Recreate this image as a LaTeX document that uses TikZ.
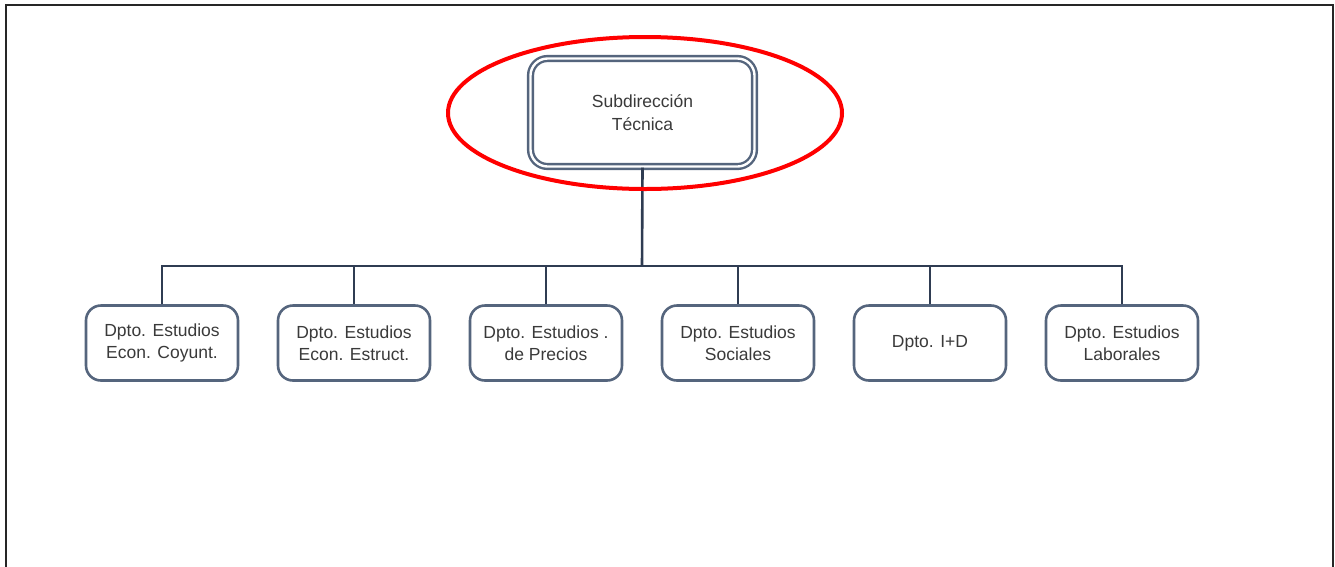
\documentclass[tikz,border=0pt]{standalone}
\usepackage{fontspec}
\usetikzlibrary{shapes.geometric}
\setmainfont{Liberation Sans}
\begin{document}
\begin{tikzpicture}[x=1pt,y=-1pt,
  boxline/.style={draw=boxc, line width=2.6pt, rounded corners=15pt},
  dept/.style={boxline, fill=white, minimum width=152pt, minimum height=75pt, align=center,
     text=txtc, font=\fontsize{17.5}{22}\selectfont, inner sep=0pt},
  top/.style={draw=boxc, line width=2.4pt, double=white, double distance=2.4pt, rounded corners=17pt,
     fill=white, minimum width=224pt, minimum height=108pt, align=center,
     text=txtc, font=\fontsize{17.5}{23}\selectfont, inner sep=0pt},
  conn/.style={draw=connc, line width=2.6pt},
  frame/.style={draw=black!85, line width=1.5pt}]
\definecolor{boxc}{HTML}{55657D}
\definecolor{connc}{HTML}{2F3C52}
\definecolor{txtc}{HTML}{3A3A3A}
\useasboundingbox (0,0) rectangle (1335,566);
\draw[frame] (6,570) -- (6,5) -- (1333,5) -- (1333,570);
\node[top] (sub) at (642.5,112.5) {Subdirección\\Técnica};
\coordinate (hub) at (642,266);
\foreach \n/\x/\t in {d1/162/{Dpto. Estudios\\Econ. Coyunt.},
                     d2/354/{Dpto. Estudios\\Econ. Estruct.},
                     d3/546/{Dpto. Estudios .\\de Precios},
                     d4/738/{Dpto. Estudios\\Sociales},
                     d5/930/{Dpto. I+D},
                     d6/1122/{Dpto. Estudios\\Laborales}}{
  \node[dept] (\n) at (\x,343) {\t};
}
\draw[conn] (sub.south) -- (hub);
\draw[conn] (d1.north) -- (d1.north |- hub) -- (d6.north |- hub) -- (d6.north);
\foreach \n in {d2,d3,d4,d5}{\draw[conn] (\n.north |- hub) -- (\n.north);}
\node[draw=red, line width=4pt, ellipse, minimum width=394pt, minimum height=152pt] (ring) at (645,113) {};
\end{tikzpicture}
\end{document}
